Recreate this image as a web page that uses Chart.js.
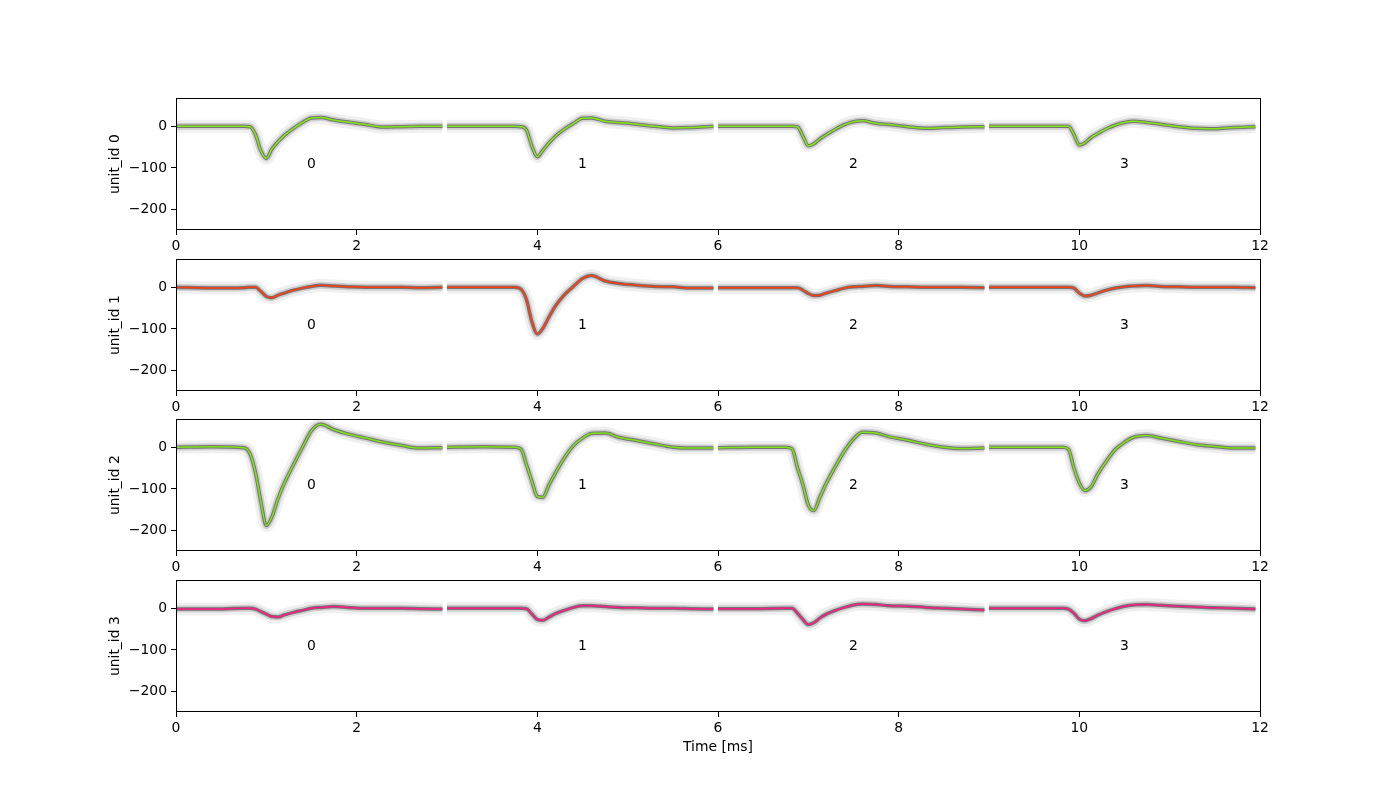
<!DOCTYPE html>
<html><head><meta charset="utf-8">
<script src="https://cdn.jsdelivr.net/npm/chart.js@4.4.1/dist/chart.umd.min.js"></script>
<style>
html,body{margin:0;padding:0;background:#fff;width:1400px;height:800px;overflow:hidden;}
.row{position:absolute;left:0;width:1400px;}
</style></head><body>
<div id="wrap"></div>
<script>
// sample times inside one channel window (ms)
const T = [0, 0.4, 0.75, 0.82, 0.88, 0.94, 1.0, 1.06, 1.13, 1.2, 1.3, 1.4, 1.5, 1.6, 1.75, 1.9, 2.1, 2.3, 2.5, 2.7, 2.95];
const unitIds = [0, 1, 2, 3];
const channelIds = [0, 1, 2, 3];
const channelOffsets = [0, 3, 6, 9];
const xTicks = [0, 2, 4, 6, 8, 10, 12];
const yTicks = [0, -100, -200];

// template amplitudes (uV) per channel, one row per channel
const unit0 = [
  [0,0,0,-1,-20,-59,-77,-55,-37,-22,-5,9,20,21,15,10,4,-2,-1,0,0],
  [0,0,0,-1,-9,-48,-73,-58,-40,-24,-7,7,19,20,12,9,5,0,-4,-3,0],
  [0,0,0,0,-1,-24,-47,-42,-30,-20,-7,4,11,13,7,4,-1,-5,-3,-2,-1],
  [0,0,0,0,0,-20,-45,-40,-27,-18,-6,3,9,12,9,5,-1,-5,-6,-3,-1]
];
const unit1 = [
  [0,-2,-1,0,0,-10,-22,-25,-19,-14,-7,-2,2,5,3,1,0,0,0,-1,0],
  [0,0,0,-5,-30,-83,-112,-99,-71,-45,-18,2,21,28,15,9,5,2,1,-2,-2],
  [-1,-1,-1,-1,-1,-7,-15,-20,-19,-14,-8,-2,1,2,4,2,1,0,0,0,-1],
  [0,0,0,0,0,-2,-14,-21,-19,-14,-7,-2,1,3,4,2,1,0,0,0,-1]
];
const unit2 = [
  [0,1,-1,-16,-61,-131,-188,-168,-123,-86,-42,0,40,55,42,32,22,12,4,-2,-1],
  [0,1,0,-5,-42,-82,-118,-120,-90,-62,-25,4,22,33,34,24,16,8,0,-2,-2],
  [-1,0,0,-4,-49,-90,-139,-152,-119,-86,-46,-9,20,36,34,25,17,7,0,-3,-2],
  [0,0,0,0,-5,-50,-86,-104,-95,-66,-33,-5,12,24,28,22,14,6,2,-2,-2]
];
const unit3 = [
  [-2,-2,0,0,-2,-8,-14,-20,-21,-16,-10,-5,0,2,4,2,0,0,0,-1,-2],
  [0,0,0,0,-1,-14,-27,-29,-21,-13,-5,2,6,6,4,2,1,0,0,-1,-2],
  [-1,-1,0,0,-12,-27,-39,-35,-23,-14,-5,2,8,10,9,6,5,2,0,-2,-4],
  [0,0,0,0,-2,-12,-26,-30,-25,-17,-8,-1,5,8,9,7,5,3,1,0,-2]
];
const unitData = [unit0, unit1, unit2, unit3];
const unitColors = ['#84e61a', '#ff3c10', '#7ee318', '#ff1a86'];
const channelLabelX = 1.5, channelLabelY = -100;

const FONT = 'DejaVu Sans';
const FS = 13.9;
const rowTops = [96, 257, 417, 578];
const plotH = 134;

function fmt(v){ return v < 0 ? '\u2212' + Math.abs(v) : String(v); }

const framePlugin = {
  id: 'frame',
  afterDatasetsDraw(chart, args, opts) {
    const {ctx, scales} = chart;
    ctx.save();
    ctx.fillStyle = '#000';
    ctx.font = FS + 'px "' + FONT + '"';
    ctx.textAlign = 'center';
    ctx.textBaseline = 'alphabetic';
    channelIds.forEach((ch, i) => {
      const x = scales.x.getPixelForValue(channelOffsets[i] + channelLabelX);
      const y = scales.y.getPixelForValue(channelLabelY);
      ctx.fillText(String(ch), x, y);
    });
    ctx.restore();
  },
  afterDraw(chart, args, opts) {
    const {ctx, chartArea: a} = chart;
    ctx.save();
    ctx.strokeStyle = '#000';
    ctx.lineWidth = 1;
    const l = Math.round(a.left), t = Math.round(a.top), r = Math.round(a.right), b = Math.round(a.bottom);
    ctx.strokeRect(l + 0.5, t + 0.5, r - l, b - t - 1);
    ctx.fillStyle = '#000';
    ctx.font = FS + 'px "' + FONT + '"';
    ctx.textAlign = 'center';
    ctx.textBaseline = 'middle';
    ctx.translate(115, (a.top + a.bottom) / 2);
    ctx.rotate(-Math.PI / 2);
    ctx.fillText(opts.ylabel, 0, 0);
    ctx.restore();
    if (opts.xlabel) {
      ctx.save();
      ctx.fillStyle = '#000';
      ctx.font = FS + 'px "' + FONT + '"';
      ctx.textAlign = 'center';
      ctx.textBaseline = 'middle';
      ctx.fillText(opts.xlabel, (a.left + a.right) / 2, a.bottom + 35);
      ctx.restore();
    }
  }
};

function makeRow(r) {
  const last = r === unitIds.length - 1;
  const padTop = 10;
  const axisH = last ? 55 : 32;
  const h = padTop + plotH + axisH;
  const div = document.createElement('div');
  div.className = 'row';
  div.style.top = (rowTops[r] - padTop) + 'px';
  div.style.height = h + 'px';
  const c = document.createElement('canvas');
  c.width = 1400; c.height = h;
  c.style.width = '1400px'; c.style.height = h + 'px';
  div.appendChild(c);
  document.getElementById('wrap').appendChild(div);

  const data = unitData[r];
  const datasets = [];
  channelIds.forEach((ch, i) => {
    const pts = T.map((t, k) => ({x: channelOffsets[i] + t, y: data[i][k]}));
    const base = {data: pts, pointRadius: 0, fill: false, cubicInterpolationMode: 'monotone', borderCapStyle: 'butt'};
    datasets.push(Object.assign({}, base, {borderColor: 'rgba(0,0,0,0.06)', borderWidth: 13, order: 4}));
    datasets.push(Object.assign({}, base, {borderColor: 'rgba(0,0,0,0.14)', borderWidth: 7, order: 3}));
    datasets.push(Object.assign({}, base, {borderColor: 'rgba(40,40,40,0.55)', borderWidth: 3.5, order: 2}));
    datasets.push(Object.assign({}, base, {borderColor: unitColors[r], borderWidth: 1.5, order: 1}));
  });

  new Chart(c, {
    type: 'line',
    data: {datasets},
    options: {
      responsive: false, animation: false, devicePixelRatio: 1,
      layout: {padding: {top: padTop, right: 140, left: 0, bottom: 0}},
      plugins: {legend: {display: false}, tooltip: {enabled: false},
        frame: {ylabel: 'unit_id ' + unitIds[r], xlabel: last ? 'Time [ms]' : ''}},
      scales: {
        x: {type: 'linear', min: 0, max: 12,
          afterBuildTicks: s => { s.ticks = xTicks.map(v => ({value: v})); },
          afterFit: s => { s.height = axisH; },
          ticks: {autoSkip: false, maxRotation: 0, padding: 3, color: '#000', font: {family: FONT, size: FS}, callback: v => fmt(v)},
          grid: {drawOnChartArea: false, drawTicks: true, tickLength: 5, color: '#000'},
          border: {display: false}
        },
        y: {type: 'linear', min: -249, max: 67,
          afterBuildTicks: s => { s.ticks = yTicks.map(v => ({value: v})); },
          afterFit: s => { s.width = 176; },
          ticks: {autoSkip: false, padding: 4, color: '#000', font: {family: FONT, size: FS}, callback: v => fmt(v)},
          grid: {drawOnChartArea: false, drawTicks: true, tickLength: 5, color: '#000'},
          border: {display: false}
        }
      }
    },
    plugins: [framePlugin]
  });
}
unitIds.forEach((u, r) => makeRow(r));
</script>
</body></html>
